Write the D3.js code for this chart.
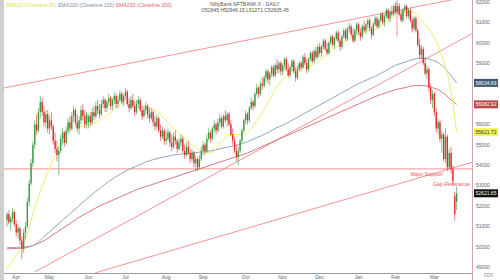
<!DOCTYPE html>
<html>
<head>
<meta charset="utf-8">
<title>NiftyBank daily</title>
<script src="https://d3js.org/d3.v7.min.js"></script>
<style>
  body { margin: 0; background: #fff; }
  svg { display: block; font-family: "Liberation Sans", Arial, sans-serif; }
</style>
</head>
<body>
<svg width="500" height="280"></svg>
<script>
// daily candles, [open, high, low, close], one array per month
const lateMar = [[51300,51700,51000,51600],[51600,51800,51100,51200],[51200,51500,50800,51400],[51400,51900,51200,51700],[51700,51800,51000,51100]];
const apr = [[51100,51300,50500,50700],[50700,51100,50400,50900],[50900,51000,50100,50300],[50300,50500,49400,49900],[49900,50900,49700,50700],[50700,51200,50400,51000],[51000,52400,50900,52200],[52200,53300,52000,53100],[53100,54300,53000,54100],[54100,55200,53900,55000],[55000,56200,54800,56000],[56000,56500,55500,55700],[55700,56800,55600,56600],[56600,57400,56300,57100],[57100,57300,56400,56600],[56600,56900,55900,56100],[56100,56700,55800,56500],[56500,56700,55600,55800]];
const may = [[55800,56400,55500,56200],[56200,56600,55700,55900],[55900,56000,55000,55200],[55200,55600,54600,54800],[54800,55200,54200,54500],[54500,54900,53500,54700],[54700,55500,54600,55300],[55300,55800,55000,55600],[55600,55700,54900,55100],[55100,55900,55000,55700],[55700,56300,55500,56100],[56100,56400,55600,55800],[55800,56600,55700,56400],[56400,56900,56100,56700],[56700,56800,55900,56100],[56100,56500,55600,55800],[55800,56400,55500,56200],[56200,56900,56000,56700],[56700,57000,56200,56400],[56400,56700,55800,56000],[56000,56600,55800,56500]];
const jun = [[56100,56500,55800,56400],[56400,56600,55900,56100],[56100,56800,56000,56600],[56600,56900,56200,56400],[56400,57100,56300,56900],[56900,57200,56500,56700],[56700,57000,56300,56500],[56500,57200,56400,57000],[57000,57400,56800,57200],[57200,57300,56600,56800],[56800,57200,56600,57100],[57100,57500,56900,57300],[57300,57400,56700,56900],[56900,57300,56700,57200],[57200,57600,57000,57400],[57400,57500,56800,57000],[57000,57400,56800,57200],[57200,57700,57100,57500],[57500,57600,57000,57100],[57100,57500,56900,57400]];
const jul = [[57400,57800,57200,57600],[57600,57700,56900,57000],[57000,57300,56600,56800],[56800,57400,56700,57200],[57200,57500,56800,56900],[56900,57100,56400,56600],[56600,57200,56500,57000],[57000,57400,56800,57200],[57200,57300,56600,56700],[56700,56900,56200,56400],[56400,56900,56300,56700],[56700,57100,56500,56900],[56900,57000,56300,56500],[56500,56800,56100,56300],[56300,56800,56200,56600],[56600,56700,55900,56100],[56100,56400,55700,55900],[55900,56500,55800,56300],[56300,56400,55600,55700],[55700,56000,55200,55400],[55400,55900,55300,55700],[55700,55800,55000,55200]];
const aug = [[55200,55700,55000,55300],[55300,55800,55200,55600],[55600,55700,54900,55100],[55100,55500,54700,54900],[54900,55600,54800,55400],[55400,55700,55000,55200],[55200,55300,54600,54800],[54800,55300,54700,55100],[55100,55500,54900,55300],[55300,55400,54600,54700],[54700,55000,54300,54500],[54500,55100,54400,54900],[54900,55200,54500,54600],[54600,54800,54100,54300],[54300,54800,54200,54600],[54600,54700,53900,54100],[54100,54500,53700,54300],[54300,54400,53700,53900],[53900,54500,53800,54300],[54300,54900,54200,54700]];
const sep = [[54700,55200,54500,55000],[55000,55100,54500,54700],[54700,55500,54600,55300],[55300,55800,55200,55600],[55600,55700,55100,55300],[55300,55900,55200,55800],[55800,56200,55600,56000],[56000,56100,55500,55700],[55700,56300,55600,56100],[56100,56500,55900,56300],[56300,56400,55800,55900],[55900,56500,55800,56400],[56400,56700,56100,56200],[56200,56600,55900,56500],[56500,56600,55900,56000],[56000,56200,55400,55500],[55500,55800,55000,55200],[55200,55400,54600,54700],[54700,55000,54200,54400],[54400,54900,54000,54700],[54700,55300,54600,55200],[55200,55800,55100,55700],[55700,56300,55600,56200]];
const oct = [[56200,56700,56000,56500],[56500,56600,56000,56200],[56200,56900,56100,56800],[56800,57300,56700,57100],[57100,57200,56700,56900],[56900,57600,56800,57500],[57500,58000,57400,57800],[57800,57900,57300,57500],[57500,58100,57400,58000],[58000,58300,57700,57900],[57900,58400,57800,58300],[58300,58700,58100,58600],[58600,58700,58000,58200],[58200,58600,57900,58500],[58500,58900,58300,58800],[58800,58900,58300,58400],[58400,59000,58300,58900],[58900,59200,58500,58700],[58700,59100,58500,59000],[59000,59100,58400,58600]];
const nov = [[58600,59000,58400,58900],[58900,59300,58700,59200],[59200,59300,58600,58700],[58700,59000,58300,58400],[58400,58900,58300,58800],[58800,59200,58600,59100],[59100,59200,58500,58600],[58600,58800,58100,58300],[58300,58900,58200,58700],[58700,59100,58600,59000],[59000,59100,58600,58800],[58800,59400,58700,59300],[59300,59500,58900,59000],[59000,59200,58500,58700],[58700,59300,58600,59200],[59200,59600,59100,59500],[59500,59600,59000,59100],[59100,59700,59000,59600],[59600,59800,59200,59300],[59300,59900,59200,59800]];
const dec = [[59800,60000,59400,59500],[59500,59900,59300,59800],[59800,60200,59700,60100],[60100,60200,59600,59700],[59700,60000,59400,59500],[59500,60100,59400,60000],[60000,60400,59900,60300],[60300,60400,59800,59900],[59900,60300,59700,60200],[60200,60600,60100,60500],[60500,60600,60000,60100],[60100,60200,59600,59800],[59800,60400,59700,60300],[60300,60700,60200,60600],[60600,60700,60100,60200],[60200,60800,60100,60700],[60700,61000,60500,60800],[60800,60900,60300,60400],[60400,60700,60000,60100],[60100,60700,60000,60600],[60600,61000,60400,60900]];
const jan = [[60900,61000,60400,60500],[60500,60700,60100,60300],[60300,60900,60200,60800],[60800,61100,60500,60600],[60600,61000,60400,60900],[60900,61200,60700,61100],[61100,61200,60600,60700],[60700,60800,60200,60400],[60400,61000,60300,60900],[60900,61300,60800,61200],[61200,61300,60700,60800],[60800,61200,60700,61100],[61100,61500,61000,61400],[61400,61500,60900,61000],[61000,61400,60800,61300],[61300,61700,61200,61600],[61600,61700,61100,61200],[61200,61600,61000,61500],[61500,61800,61300,61400],[61400,61900,61300,61800]];
const feb = [[61800,62000,61400,61500],[61500,61900,61400,61800],[61800,61950,61300,61400],[61400,61600,61000,61100],[61100,61700,61000,61600],[61600,61900,61500,61800],[61800,61850,61200,61300],[61300,61700,61200,61600],[61600,61700,61000,61100],[61100,61200,60500,60700],[60700,61300,60600,61200],[61200,61300,60500,60600],[60600,60700,59800,59900],[59900,60200,59200,59400],[59400,59900,59200,59700],[59700,59800,58900,59000],[59000,59300,58400,58500],[58500,58900,58200,58700],[58700,58800,57600,57800],[57800,58000,57000,57200],[57200,57700,56800,57500]];
const mar = [[57500,57600,56400,56600],[56600,56800,55600,55800],[55800,56300,55500,56100],[56100,56200,55100,55300],[55300,55700,54600,55500],[55500,55600,54200,54300],[54300,55800,54100,55400],[55400,55500,53700,53900],[53900,54800,53800,54600],[54600,54900,53600,53800],[53800,54000,53000,53200],[52500,52700,51270,51600],[52200,52950,51800,52620]];

// month labels and the candle index where each month starts
const monthLabels = ["Apr","May","Jun","Jul","Aug","Sep","Oct","Nov","Dec","Jan","Feb","Mar"];
const monthStart = [5,23,44,64,86,106,129,149,169,190,210,231];

// moving averages at these candle indexes
const maIdx  = [0,5,10,15,20,25,30,35,40,45,50,55,60,65,70,75,80,85,90,95,100,105,110,115,120,125,130,135,140,145,150,155,160,165,170,175,180,185,190,195,200,205,210,215,220,225,230,235,240,243];
const sma20  = [48900,49600,50400,51900,53200,54300,55300,55800,55900,56000,56200,56500,56900,57100,57100,56900,56700,56300,55800,55400,55000,54700,54600,55000,55500,55500,55600,56200,56900,57700,58300,58700,58800,58900,59200,59600,59900,60200,60400,60600,60700,61000,61300,61500,61500,61000,60400,59400,57600,55622];
const ema100 = [49950,49980,50000,50100,50500,50900,51300,51700,52100,52500,52850,53200,53500,53750,53950,54150,54300,54400,54500,54550,54600,54650,54700,54800,54900,55000,55150,55350,55550,55800,56000,56250,56500,56750,57000,57250,57500,57750,58000,58200,58400,58650,58900,59050,59200,59250,59150,58900,58400,58035];
const sma200 = [49900,49920,49950,50100,50300,50600,50900,51200,51500,51750,52000,52200,52400,52600,52800,52950,53100,53250,53400,53550,53700,53850,54000,54150,54300,54450,54600,54800,55000,55200,55400,55600,55800,56000,56200,56400,56600,56800,57000,57200,57400,57550,57700,57800,57900,57900,57800,57600,57200,56983];

// hand drawn studies: [index, price] end points
const topLine = [[-4,57740],[250,62280]];
const midLine = [[15,48770],[252,60480]];
const lowLine = [[47.6,48720],[252,54160]];
const supportLine = [[-4,53820],[252,53820]];
const markLine = [[210.8,62100],[210.8,60300]];

const yTicks = [49000,50000,51000,52000,53000,54000,55000,56000,57000,58000,59000,60000,61000,62000];
const tags = [
  {v: 58035, text: "58034.69", fill: "#3e5b76", color: "#fff"},
  {v: 56983, text: "56982.92", fill: "#b94a48", color: "#fff"},
  {v: 55622, text: "55621.72", fill: "#f4f25a", color: "#333"},
  {v: 52622, text: "52621.65", fill: "#111", color: "#fff"}
];

const allCandles = [].concat(lateMar, apr, may, jun, jul, aug, sep, oct, nov, dec, jan, feb, mar)
  .map((d, i) => ({i, o: d[0], h: d[1], l: d[2], c: d[3]}));

const svg = d3.select("svg");
const plotL = 4, plotR = 472, plotB = 273;

const x = d3.scaleLinear().domain([0, allCandles.length - 1]).range([7, 456.6]);
const y = d3.scaleLinear().domain([49000, 62000]).range([267.2, 2]);

svg.append("rect").attr("x", 0).attr("y", 0).attr("width", plotL).attr("height", 280).attr("fill", "#cfcfcf");

svg.append("clipPath").attr("id", "plot")
  .append("rect").attr("x", plotL).attr("y", 0).attr("width", plotR - plotL).attr("height", plotB);

const g = svg.append("g").attr("clip-path", "url(#plot)");

// studies
const seg = d3.line().x(d => x(d[0])).y(d => y(d[1]));
[topLine, midLine, lowLine, supportLine, markLine].forEach(l => {
  g.append("path").attr("d", seg(l)).attr("fill", "none")
    .attr("stroke", "#f07878").attr("stroke-width", 0.8);
});

// moving averages
const ma = vals => d3.line().curve(d3.curveMonotoneX)
  .x((d, k) => x(maIdx[k])).y(d => y(d))(vals);
g.append("path").attr("d", ma(sma200)).attr("fill", "none").attr("stroke", "#d46a6a").attr("stroke-width", 0.9);
g.append("path").attr("d", ma(ema100)).attr("fill", "none").attr("stroke", "#8ea6bd").attr("stroke-width", 1);
g.append("path").attr("d", ma(sma20)).attr("fill", "none").attr("stroke", "#f1ef6a").attr("stroke-width", 1);

// candles
const up = "#2f9c3a", down = "#e2262c";
const cg = g.selectAll("g.candle").data(allCandles).enter().append("g").attr("class", "candle");
cg.append("line")
  .attr("x1", d => x(d.i)).attr("x2", d => x(d.i))
  .attr("y1", d => y(d.h)).attr("y2", d => y(d.l))
  .attr("stroke", d => d.c >= d.o ? up : down).attr("stroke-width", 0.6);
cg.append("rect")
  .attr("x", d => x(d.i) - 0.65).attr("width", 1.3)
  .attr("y", d => y(Math.max(d.o, d.c)))
  .attr("height", d => Math.max(0.6, Math.abs(y(d.o) - y(d.c))))
  .attr("fill", d => d.c >= d.o ? up : down);

// annotations
g.append("text").attr("x", 443).attr("y", 176).attr("text-anchor", "end")
  .attr("font-size", 5.2).attr("fill", "#e85a5a").text("Major Support");
g.append("text").attr("x", 433).attr("y", 186)
  .attr("font-size", 5.2).attr("fill", "#e85a5a").text("Gap Resistance");

// bottom axis
svg.append("line").attr("x1", plotL).attr("x2", plotR).attr("y1", plotB + 0.5).attr("y2", plotB + 0.5)
  .attr("stroke", "#9a9a9a").attr("stroke-width", 1);
svg.selectAll("text.month").data(monthLabels).enter().append("text").attr("class", "month")
  .attr("x", (d, k) => x(monthStart[k])).attr("y", 279).attr("text-anchor", "middle")
  .attr("font-size", 5).attr("fill", "#666").text(d => d);

// right axis: tick labels sitting under a value tag are covered by it
svg.append("line").attr("x1", plotR + 0.5).attr("x2", plotR + 0.5).attr("y1", 0).attr("y2", 280)
  .attr("stroke", "#cfa7ae").attr("stroke-width", 1);
const freeTicks = yTicks.filter(t => tags.every(tg => Math.abs(y(t) - y(tg.v)) > 6));
svg.selectAll("text.tick").data(freeTicks).enter().append("text").attr("class", "tick")
  .attr("x", 476).attr("y", d => y(d)).attr("dy", "0.35em")
  .attr("font-size", 5).attr("fill", "#666").text(d => d);
const tg = svg.selectAll("g.tag").data(tags).enter().append("g").attr("class", "tag");
tg.append("rect").attr("x", 474).attr("y", d => y(d.v) - 4).attr("width", 24).attr("height", 8)
  .attr("fill", d => d.fill);
tg.append("text").attr("x", 486).attr("y", d => y(d.v)).attr("dy", "0.35em").attr("text-anchor", "middle")
  .attr("font-size", 5).attr("fill", d => d.color).text(d => d.text);
svg.append("text").attr("x", 484).attr("y", 277).attr("font-size", 4.5).attr("fill", "#888").text("FDX");

// legend and title
const legend = svg.append("text").attr("x", 6).attr("y", 7).attr("font-size", 5.2);
legend.append("tspan").attr("fill", "#e4e23c").text("SMA20 (Closeline 20)  ");
legend.append("tspan").attr("fill", "#7a8fa6").text("EMA100 (Closeline 100)  ");
legend.append("tspan").attr("fill", "#e06666").text("SMA200 (Closeline 200)");

svg.append("text").attr("x", 245).attr("y", 6).attr("text-anchor", "middle")
  .attr("font-size", 5).attr("fill", "#555").text("NiftyBank.NFTBANK.X - DAILY");
svg.append("text").attr("x", 245).attr("y", 12).attr("text-anchor", "middle")
  .attr("font-size", 5).attr("fill", "#555").text("O52845 H52946.15 L51271 C52605.45");
</script>
</body>
</html>
